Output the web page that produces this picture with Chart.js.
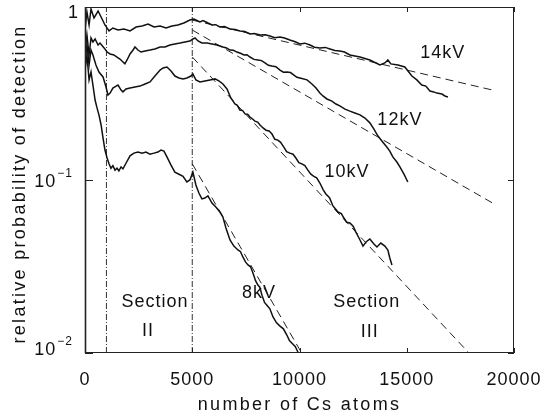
<!doctype html>
<html>
<head>
<meta charset="UTF-8">
<title>relative probability of detection</title>
<script src="https://cdn.jsdelivr.net/npm/chart.js@4.4.1/dist/chart.umd.min.js"></script>
<style>
  body { margin: 0; background: #fff; }
  #wrap { width: 543px; height: 418px; }
</style>
</head>
<body>
<div id="wrap"><canvas id="canvas"></canvas></div>
<script>
// measured curves, x = number of Cs atoms, y = relative probability
var kv14X = [0, 90, 190, 280, 420, 610, 750, 930, 1120, 1300, 1540, 1820, 2100, 2380, 2660, 2940, 3220, 3500, 3780, 4050, 4330, 4610, 4890,
  5080, 5360, 5500, 5640, 5920, 6100, 6290, 6500, 6760, 7000, 7220, 7450, 7690, 7900, 8160, 8400, 8620, 8850, 9090, 9300, 9550, 9800,
  10020, 10250, 10490, 10700, 10950, 11200, 11420, 11650, 11880, 12100, 12350,
  12820, 13280, 13750, 13980, 14120, 14260, 14590, 14910, 15240, 15470, 15700, 15890, 16080, 16260, 16400, 16640, 16780, 16920];
var kv14Y = [0.736, 0.936, 0.787, 0.974, 0.864, 0.948, 0.875, 0.787, 0.727, 0.756, 0.736, 0.746, 0.727, 0.766, 0.776, 0.797, 0.766, 0.776, 0.756, 0.776, 0.787, 0.808, 0.841,
  0.852, 0.819, 0.835, 0.819, 0.787, 0.790, 0.766, 0.770, 0.746, 0.742, 0.727, 0.722, 0.698, 0.702, 0.689, 0.692, 0.680, 0.665, 0.671, 0.662, 0.644, 0.630,
  0.611, 0.618, 0.603, 0.585, 0.580, 0.584, 0.572, 0.560, 0.557, 0.549, 0.528,
  0.514, 0.494, 0.462, 0.475, 0.494, 0.469, 0.462, 0.450, 0.399, 0.379, 0.354, 0.349, 0.327, 0.323, 0.318, 0.314, 0.306, 0.302];

var kv12X = [0, 90, 190, 280, 370, 470, 610, 700, 890, 1030, 1170, 1350, 1490, 1630, 1770, 1860, 1960, 2100, 2240, 2330,
  2470, 2610, 2800, 3030, 3260, 3500, 3730, 3960, 4190, 4430, 4660, 4890, 5030, 5130, 5270, 5450, 5690, 5920, 6150,
  6430, 6600, 6760, 6920, 7080, 7250, 7410, 7550, 7690, 7880, 8060, 8230, 8390, 8550, 8710, 8900, 9090, 9250, 9410, 9580, 9740, 9880, 10020,
  10350, 10580, 10770, 10950, 11090, 11280, 11510, 11700, 11880,
  12120, 12350, 12580, 12820, 13050, 13280, 13470, 13650, 13840, 14070, 14210, 14350, 14540, 14680, 14870, 15050];
var kv12Y = [0.564, 0.689, 0.528, 0.662, 0.628, 0.653, 0.603, 0.619, 0.580, 0.549, 0.535, 0.528, 0.514, 0.500, 0.481, 0.469, 0.494, 0.535, 0.564, 0.587,
  0.564, 0.549, 0.557, 0.564, 0.572, 0.587, 0.587, 0.603, 0.611, 0.619, 0.628, 0.636, 0.653, 0.662, 0.636, 0.619, 0.619, 0.611, 0.603,
  0.587, 0.580, 0.564, 0.562, 0.549, 0.540, 0.528, 0.530, 0.514, 0.498, 0.494, 0.490, 0.475, 0.460, 0.456, 0.452, 0.432, 0.420, 0.421, 0.418, 0.404, 0.392, 0.389,
  0.379, 0.359, 0.340, 0.318, 0.306, 0.294, 0.286, 0.275, 0.268,
  0.257, 0.250, 0.244, 0.238, 0.228, 0.214, 0.197, 0.180, 0.168, 0.155, 0.147, 0.136, 0.127, 0.119, 0.108, 0.0974];

var kv10X = [0, 90, 190, 280, 370, 510, 650, 840, 980, 1070, 1170, 1300, 1450, 1540, 1680, 1770, 1910, 2100, 2330, 2560,
  2800, 3030, 3260, 3500, 3640, 3820, 4010, 4190, 4380, 4570, 4750, 4940, 5030, 5170, 5360, 5590, 5830, 6060, 6240, 6430,
  6620, 6800, 6990, 7100, 7220, 7350, 7460, 7580, 7690, 7800, 7920, 8050, 8160, 8300, 8440, 8580, 8710, 8850, 8990, 9120,
  9270, 9400, 9550, 9700, 9830, 9970, 10110, 10250, 10390, 10530, 10670, 10800, 10950, 11100, 11230, 11400, 11560, 11680,
  11790, 11950, 12070, 12200, 12350, 12500, 12630, 12820, 12960, 13100, 13280, 13470, 13610, 13790, 13980, 14120, 14210, 14310];
var kv10Y = [0.494, 0.603, 0.462, 0.564, 0.528, 0.462, 0.421, 0.394, 0.345, 0.310, 0.318, 0.340, 0.349, 0.354, 0.331, 0.323, 0.336, 0.340, 0.345, 0.349,
  0.359, 0.369, 0.399, 0.432, 0.444, 0.450, 0.427, 0.399, 0.389, 0.384, 0.389, 0.399, 0.410, 0.379, 0.369, 0.374, 0.379, 0.384, 0.374, 0.359,
  0.336, 0.298, 0.275, 0.270, 0.254, 0.252, 0.241, 0.240, 0.231, 0.226, 0.219, 0.216, 0.208, 0.200, 0.194, 0.192, 0.185, 0.172, 0.170, 0.165,
  0.155, 0.146, 0.143, 0.141, 0.134, 0.126, 0.124, 0.121, 0.114, 0.108, 0.105, 0.103, 0.0961, 0.0880, 0.0830, 0.0790, 0.0708, 0.0680,
  0.0653, 0.0640, 0.0603, 0.0570, 0.0564, 0.0540, 0.0500, 0.0450, 0.0415, 0.0438, 0.0456, 0.0427, 0.0410, 0.0432, 0.0415, 0.0394, 0.0354, 0.0323];

var kv8X = [0, 90, 190, 280, 370, 470, 560, 650, 750, 840, 930, 1030, 1120, 1210, 1300, 1400, 1490, 1580, 1680, 1770,
  1910, 2100, 2280, 2470, 2660, 2840, 3030, 3220, 3400, 3540, 3680, 3820, 4010, 4190, 4380, 4570, 4750, 4890, 5030, 5170,
  5310, 5450, 5590, 5730, 5920, 6100, 6290, 6430, 6570, 6760, 6940, 7130, 7250, 7360, 7480, 7600, 7720, 7830, 7950, 8060,
  8150, 8250, 8370, 8480, 8620, 8760, 8920, 9090, 9250, 9410, 9530, 9650, 9800, 9930];
var kv8Y = [0.432, 0.528, 0.379, 0.421, 0.354, 0.290, 0.261, 0.238, 0.208, 0.175, 0.149, 0.134, 0.124, 0.117, 0.121, 0.114, 0.117, 0.113, 0.119, 0.116,
  0.125, 0.138, 0.143, 0.145, 0.143, 0.145, 0.141, 0.143, 0.145, 0.149, 0.147, 0.136, 0.122, 0.111, 0.108, 0.105, 0.0974, 0.100, 0.111, 0.0936,
  0.0841, 0.0777, 0.0787, 0.0809, 0.0736, 0.0698, 0.0653, 0.0611, 0.0528, 0.0450, 0.0415, 0.0394, 0.0385, 0.0359, 0.0336, 0.0323, 0.0315, 0.0290, 0.0262, 0.0247,
  0.0240, 0.0216, 0.0196, 0.0189, 0.0180, 0.0162, 0.0150, 0.0143, 0.0138, 0.0127, 0.0118, 0.0114, 0.0109, 0.0101];

// exponential fits in section III (straight on the log axis)
var fit14X = [5000, 19000], fit14Y = [0.84, 0.331];
var fit12X = [5000, 19000], fit12Y = [0.736, 0.0736];
var fit10X = [5000, 17900], fit10Y = [0.514, 0.01];
var fit8X = [5000, 10100], fit8Y = [0.124, 0.01];

// section boundaries
var sectionX = [1000, 5000];

var xTicks = [0, 5000, 10000, 15000, 20000];
var yTicks = [1, 0.1, 0.01];

function pts(xs, ys) {
  return xs.map(function(x, i) { return { x: x, y: ys[i] }; });
}

var FONT = '"Liberation Sans", Arial, sans-serif';
var INK = '#111';

var datasets = [];
[[kv14X, kv14Y], [kv12X, kv12Y], [kv10X, kv10Y], [kv8X, kv8Y]].forEach(function(c) {
  datasets.push({ data: pts(c[0], c[1]), borderColor: INK, borderWidth: 1.5 });
});
[[fit14X, fit14Y], [fit12X, fit12Y], [fit10X, fit10Y], [fit8X, fit8Y]].forEach(function(c) {
  datasets.push({ data: pts(c[0], c[1]), borderColor: '#222', borderWidth: 1, borderDash: [8, 5] });
});
sectionX.forEach(function(x) {
  datasets.push({ data: [{ x: x, y: 0.01 }, { x: x, y: 1 }], borderColor: '#333', borderWidth: 1, borderDash: [6, 2, 1, 2] });
});

// text placed at data coordinates
var notes = [
  { t: '14kV', x: 16680, y: 0.542 },
  { t: '12kV', x: 14680, y: 0.222 },
  { t: '10kV', x: 12210, y: 0.111 },
  { t: '8kV', x: 8110, y: 0.0222 },
  { t: 'Section', x: 3260, y: 0.0197 },
  { t: 'II', x: 2940, y: 0.0134 },
  { t: 'Section', x: 13140, y: 0.0197 },
  { t: 'III', x: 13280, y: 0.0132 }
];

var frame = {
  id: 'frame',
  afterDatasetsDraw: function(chart) {
    var ctx = chart.ctx, a = chart.chartArea;
    var sx = chart.scales.x, sy = chart.scales.y;
    ctx.save();
    ctx.strokeStyle = '#222';
    ctx.lineWidth = 1;
    ctx.strokeRect(a.left + 0.5, a.top + 0.5, a.right - a.left - 1, a.bottom - a.top - 1);
    ctx.lineWidth = 1.6;
    ctx.beginPath();
    ctx.moveTo(a.left + 0.5, a.top);
    ctx.lineTo(a.left + 0.5, a.bottom);
    ctx.stroke();

    // inward ticks
    ctx.lineWidth = 1;
    ctx.beginPath();
    xTicks.forEach(function(v) {
      var px = Math.round(sx.getPixelForValue(v)) + 0.5;
      ctx.moveTo(px, a.bottom); ctx.lineTo(px, a.bottom - 5);
      ctx.moveTo(px, a.top); ctx.lineTo(px, a.top + 5);
    });
    yTicks.forEach(function(v) {
      var py = Math.round(sy.getPixelForValue(v)) + 0.5;
      ctx.moveTo(a.left, py); ctx.lineTo(a.left + 8, py);
      ctx.moveTo(a.right, py); ctx.lineTo(a.right - 6, py);
    });
    ctx.stroke();

    ctx.fillStyle = INK;
    ctx.font = '18px ' + FONT;
    ctx.letterSpacing = '1px';
    ctx.textBaseline = 'alphabetic';

    // x tick labels
    ctx.textAlign = 'center';
    xTicks.forEach(function(v) {
      ctx.fillText(String(v), sx.getPixelForValue(v), a.bottom + 32);
    });

    // y tick labels, powers of ten
    yTicks.forEach(function(v) {
      var py = sy.getPixelForValue(v);
      var e = Math.round(Math.log10(v));
      ctx.textAlign = 'right';
      ctx.font = '18px ' + FONT;
      if (e === 0) {
        ctx.fillText('1', a.left - 6, py + 11);
        return;
      }
      var base = Math.min(py + 7, a.bottom + 2);
      ctx.font = '12px ' + FONT;
      var sup = '\u2212' + (-e);
      var supW = ctx.measureText(sup).width;
      ctx.fillText(sup, a.left - 12, base - 10);
      ctx.font = '18px ' + FONT;
      ctx.fillText('10', a.left - 12 - supW - 1, base);
    });

    // curve and section labels
    ctx.textAlign = 'center';
    ctx.textBaseline = 'middle';
    notes.forEach(function(n) {
      ctx.fillText(n.t, sx.getPixelForValue(n.x), sy.getPixelForValue(n.y));
    });

    // axis titles
    ctx.letterSpacing = '2.3px';
    ctx.textBaseline = 'alphabetic';
    ctx.fillText('number of Cs atoms', (a.left + a.right) / 2, a.bottom + 57);
    ctx.translate(25, (a.top + a.bottom) / 2 + 4);
    ctx.rotate(-Math.PI / 2);
    ctx.fillText('relative probability of detection', 0, 0);
    ctx.restore();
  }
};

new Chart(document.getElementById('canvas'), {
  type: 'line',
  data: { datasets: datasets },
  options: {
    responsive: true,
    maintainAspectRatio: false,
    animation: false,
    layout: { padding: { left: 85, right: 29, top: 7, bottom: 65 } },
    elements: { point: { radius: 0 }, line: { tension: 0 } },
    plugins: { legend: { display: false }, tooltip: { enabled: false } },
    scales: {
      x: { type: 'linear', min: 0, max: 20000, display: false },
      y: { type: 'logarithmic', min: 0.01, max: 1, display: false }
    }
  },
  plugins: [frame]
});
</script>
</body>
</html>
